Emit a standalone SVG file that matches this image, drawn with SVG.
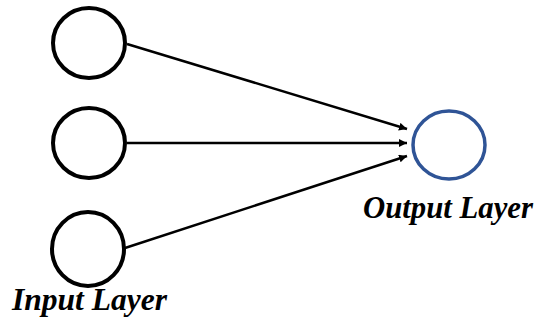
<svg xmlns="http://www.w3.org/2000/svg" width="540" height="322" viewBox="0 0 540 322">
  <style>
    .in { fill: #fff; stroke: #000; stroke-width: 4; }
    .out { fill: #fff; stroke: #2f5496; stroke-width: 3.5; }
    .edge { stroke: #000; stroke-width: 2.5; fill: none; marker-end: url(#arrow); }
    .label { font-family: "Liberation Serif", "Times New Roman", serif; font-weight: bold; font-style: italic; font-size: 31px; fill: #000; }
  </style>
  <defs>
    <marker id="arrow" viewBox="0 0 10 10" refX="10" refY="5" markerWidth="8" markerHeight="8" markerUnits="userSpaceOnUse" orient="auto">
      <path d="M0,0 L10,5 L0,10 z" fill="#000"/>
    </marker>
  </defs>
  <rect width="540" height="322" fill="#fff"/>
  <g id="connectors">
    <line class="edge" x1="127" y1="44" x2="407" y2="129"/>
    <line class="edge" x1="127" y1="143" x2="407" y2="143"/>
    <line class="edge" x1="125" y1="248" x2="407" y2="156"/>
  </g>
  <g id="input1"><ellipse class="in" cx="89" cy="43" rx="36" ry="35"/></g>
  <g id="input2"><ellipse class="in" cx="89" cy="143" rx="36" ry="35"/></g>
  <g id="input3"><ellipse class="in" cx="88" cy="249" rx="36" ry="37"/></g>
  <g id="output"><ellipse class="out" cx="449" cy="145" rx="36" ry="34"/></g>
  <text class="label" x="363" y="218" textLength="170" lengthAdjust="spacingAndGlyphs">Output Layer</text>
  <text class="label" x="12" y="310" textLength="155" lengthAdjust="spacingAndGlyphs">Input Layer</text>
</svg>
